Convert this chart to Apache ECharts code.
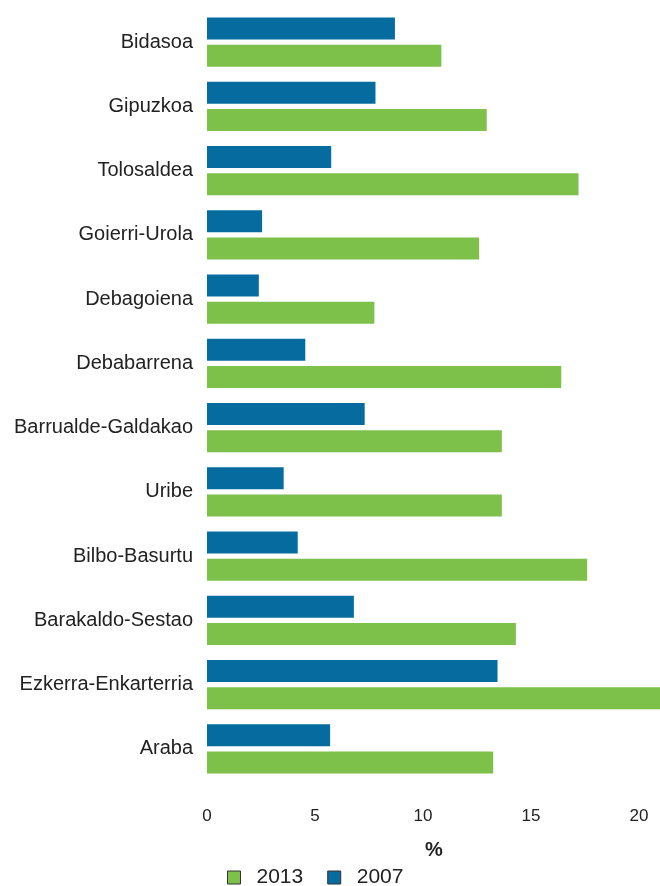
<!DOCTYPE html>
<html>
<head>
<meta charset="utf-8">
<script src="https://cdn.jsdelivr.net/npm/echarts@6/dist/echarts.min.js"></script>
<style>
  html, body { margin: 0; padding: 0; background: #fff; }
  #chart { width: 660px; height: 886px; }
</style>
</head>
<body>
<div id="chart"></div>
<script>
// comarcas, top to bottom
const regions = [
  'Bidasoa', 'Gipuzkoa', 'Tolosaldea', 'Goierri-Urola', 'Debagoiena', 'Debabarrena',
  'Barrualde-Galdakao', 'Uribe', 'Bilbo-Basurtu', 'Barakaldo-Sestao', 'Ezkerra-Enkarterria', 'Araba'
]
const values2007 = [8.7, 7.8, 5.75, 2.55, 2.4, 4.55, 7.3, 3.55, 4.2, 6.8, 13.45, 5.7]
const values2013 = [10.85, 12.95, 17.2, 12.6, 7.75, 16.4, 13.65, 13.65, 17.6, 14.3, 21.8, 13.25]
const xTicks = [0, 5, 10, 15, 20, 25]

const font = '"Liberation Sans", Arial, sans-serif'
const blue = '#066ca0'
const green = '#7dc04a'

const chart = echarts.init(document.getElementById('chart'))

chart.setOption({
  animation: false,
  textStyle: { fontFamily: font },
  title: {
    text: '%',
    left: 420,
    top: 835,
    textStyle: { fontSize: 20, fontWeight: 'bold', color: '#222', fontFamily: font }
  },
  legend: {
    data: ['2013', '2007'],
    left: 222,
    top: 862,
    itemWidth: 13,
    itemHeight: 13,
    itemGap: 24,
    icon: 'rect',
    itemStyle: { borderColor: '#333', borderWidth: 1 },
    textStyle: { fontSize: 21, color: '#222', padding: [0, 0, 0, 11] }
  },
  grid: {
    left: 207,
    top: 10,
    width: 540,
    height: 771,
    containLabel: false,
    outerBoundsMode: 'none'
  },
  xAxis: {
    type: 'value',
    min: xTicks[0],
    max: xTicks[xTicks.length - 1],
    interval: 5,
    axisLine: { show: false },
    axisTick: { show: false },
    splitLine: { show: false },
    axisLabel: { fontSize: 17, color: '#222', margin: 27 }
  },
  yAxis: {
    type: 'category',
    data: regions,
    inverse: true,
    axisLine: { show: false },
    axisTick: { show: false },
    axisLabel: { fontSize: 20, color: '#222', margin: 14 }
  },
  series: [
    {
      name: '2007',
      type: 'bar',
      data: values2007,
      barWidth: 22,
      barGap: '23%',
      itemStyle: { color: blue }
    },
    {
      name: '2013',
      type: 'bar',
      data: values2013,
      barWidth: 22,
      barGap: '23%',
      itemStyle: { color: green }
    }
  ]
})
</script>
</body>
</html>
